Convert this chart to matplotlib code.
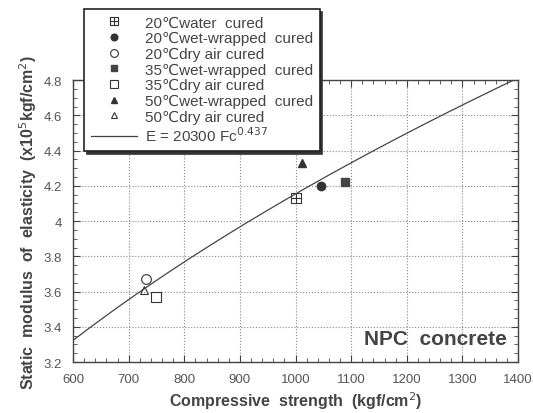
import numpy as np
import matplotlib
matplotlib.use("Agg")
import matplotlib.pyplot as plt
from matplotlib.path import Path
from matplotlib.ticker import MultipleLocator, FuncFormatter

plt.rcParams['font.family'] = ['Liberation Sans', 'DejaVu Sans']

# Data
labels = ["20℃water  cured", "20℃wet-wrapped  cured", "20℃dry air cured",
          "35℃wet-wrapped  cured", "35℃dry air cured",
          "50℃wet-wrapped  cured", "50℃dry air cured"]
fc_values = [1000, 1046, 732, 1088, 749, 1012, 727]
e_values = [4.13, 4.20, 3.67, 4.22, 3.57, 4.33, 3.61]

# fit curve E = 20300 Fc^0.437 (kgf/cm2 -> x10^5)
coef = 20300
expo = 0.437
fit_x = np.linspace(600, 1400, 200)

boxplus = Path([(-1, -1), (1, -1), (1, 1), (-1, 1), (-1, -1),
                (0, -1), (0, 1), (-1, 0), (1, 0)],
               [Path.MOVETO, Path.LINETO, Path.LINETO, Path.LINETO, Path.CLOSEPOLY,
                Path.MOVETO, Path.LINETO, Path.MOVETO, Path.LINETO])

styles = [
    dict(marker=boxplus, mfc='none', mec='#333333', ms=7, mew=0.8),
    dict(marker='o', mfc='#333333', mec='#333333', ms=6),
    dict(marker='o', mfc='none', mec='#333333', ms=7, mew=0.8),
    dict(marker='s', mfc='#444444', mec='#444444', ms=6),
    dict(marker='s', mfc='none', mec='#333333', ms=7, mew=0.8),
    dict(marker='^', mfc='#333333', mec='#333333', ms=6),
    dict(marker='^', mfc='none', mec='#333333', ms=6, mew=0.8),
]

fig = plt.figure(figsize=(5.33, 4.14), dpi=100)
ax = fig.add_axes([0.137, 0.123, 0.835, 0.681])

handles = []
for lab, x, y, st in zip(labels, fc_values, e_values, styles):
    h, = ax.plot([x], [y], linestyle='none', label=lab, **st)
    handles.append(h)

fit_y = coef * fit_x ** expo / 1e5
hl, = ax.plot(fit_x, fit_y, color='#444444', lw=0.9, label="E = 20300 Fc$^{0.437}$")
handles.append(hl)

ax.set_xlim(600, 1400)
ax.set_ylim(3.2, 4.8)
ax.xaxis.set_major_locator(MultipleLocator(100))
ax.xaxis.set_minor_locator(MultipleLocator(20))
ax.yaxis.set_major_locator(MultipleLocator(0.2))
ax.yaxis.set_minor_locator(MultipleLocator(0.05))
ax.yaxis.set_major_formatter(FuncFormatter(lambda v, p: f"{v:g}"))
ax.tick_params(which='both', direction='in', top=True, right=True, color='#444444')
ax.tick_params(which='major', length=5, labelsize=9.5, labelcolor='#555555', pad=8)
ax.tick_params(which='minor', length=3)
ax.grid(True, which='major', linestyle=':', color='#888888', lw=0.8)
for s in ax.spines.values():
    s.set_color('#444444')
    s.set_linewidth(1.0)

ax.set_xlabel("Compressive  strength  (kgf/cm$^2$)", fontsize=11.5, fontweight='bold',
              color='#444444', labelpad=3)
ax.set_ylabel("Static  modulus  of  elasticity  (x10$^5$kgf/cm$^2$)", fontsize=11.5,
              fontweight='bold', color='#444444', labelpad=3)

ax.text(0.975, 0.05, "NPC  concrete", transform=ax.transAxes, ha='right', va='bottom',
        fontsize=15, fontweight='bold', color='#444444')

leg = fig.legend(handles=handles, loc='upper left', bbox_to_anchor=(0.158, 0.976),
                 borderaxespad=0.0,
                 fontsize=11, frameon=True,
                 shadow={'color': '#333333', 'alpha': 1.0}, fancybox=False,
                 handlelength=3.0, handletextpad=0.5, labelspacing=0.1,
                 borderpad=0.45, labelcolor='#444444', markerscale=0.8)
leg.get_frame().set_edgecolor('#222222')
leg.get_frame().set_linewidth(1.2)

fig.savefig("out.png", dpi=100)
